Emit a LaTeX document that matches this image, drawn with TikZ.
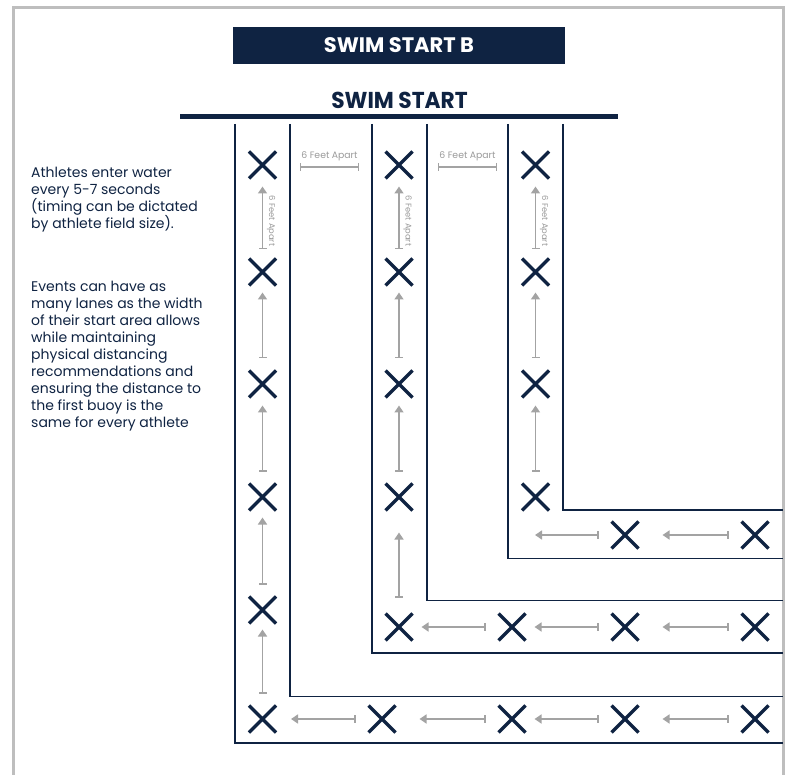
\documentclass[tikz,border=0pt]{standalone}
\usepackage{fontspec}
\setmainfont{Poppins}
\usetikzlibrary{arrows.meta,shapes.misc}
\definecolor{navy}{HTML}{0F2342}
\definecolor{agray}{HTML}{A3A3A3}
\definecolor{lgray}{HTML}{9A9A9A}
\definecolor{fgray}{HTML}{BEBEBE}
\tikzset{
  xmark/.style={cross out, draw=navy, line width=3.3pt, minimum size=27pt, inner sep=0pt, outer sep=0pt},
  wall/.style={draw=navy, line width=1.9pt},
  garrow/.style={draw=agray, line width=1.4pt, {Bar[width=8pt,line width=1.4pt]}-{Triangle[width=9pt,length=7pt]}},
  dimline/.style={draw=agray, line width=1.4pt, {Bar[width=8pt,line width=1.4pt]}-{Bar[width=8pt,line width=1.4pt]}},
  dimlabel/.style={text=lgray, font=\fontsize{9.3}{10}\selectfont, inner sep=0pt},
  vlabel/.style={text=lgray, font=\fontsize{8.3}{9}\selectfont, inner sep=0pt, rotate=-90},
  bodytext/.style={text=navy, font=\fontsize{14}{17}\selectfont, align=left, inner sep=0pt, anchor=base west},
}
\begin{document}
\begin{tikzpicture}[x=1pt,y=-1pt]
\useasboundingbox (0,0) rectangle (790,775);
% outer frame
\draw[fgray, line width=2.5pt] (13.5,775) -- (13.5,7.3) -- (783.5,7.3) -- (783.5,775);
% titles
\node[fill=navy, minimum width=332pt, minimum height=37pt, inner sep=0pt, text=white, font=\fontsize{21}{23}\selectfont\bfseries] (title) at (399,45.5) {SWIM START B};
\node[text=navy, font=\fontsize{23}{25}\selectfont\bfseries, anchor=base, inner sep=0pt, xscale=0.945] (start) at (399.5,109) {SWIM START};
\coordinate (barL) at (180,116.5);
\coordinate (barR) at (618,116.5);
\draw[navy, line width=5pt] (barL) -- (barR);
% lane walls
\draw[wall] (235,124) -- (235,743) -- (783,743);
\draw[wall] (290,124) -- (290,696.5) -- (783,696.5);
\draw[wall] (372,124) -- (372,653) -- (783,653);
\draw[wall] (427,124) -- (427,600.5) -- (783,600.5);
\draw[wall] (508,124) -- (508,558.5) -- (783,558.5);
\draw[wall] (563,124) -- (563,510) -- (783,510);
% side text (anchor = baseline of last line)
\node[bodytext] (p1) at (31,228.5) {Athletes enter water\\every 5-7 seconds\\(timing can be dictated\\by athlete field size).};
\node[bodytext] (p2) at (31,427.5) {Events can have as\\many lanes as the width\\of their start area allows\\while maintaining\\physical distancing\\recommendations and\\ensuring the distance to\\the first buoy is the\\same for every athlete};
% lane 1 marks
\node[xmark] (L1a) at (262.5,165) {};
\node[xmark] (L1b) at (262.5,272) {};
\node[xmark] (L1c) at (262.5,384) {};
\node[xmark] (L1d) at (262.5,497) {};
\node[xmark] (L1e) at (262.5,610) {};
\node[xmark] (L1f) at (262.5,719) {};
\node[xmark] (B1a) at (382,719) {};
\node[xmark] (B1b) at (512,719) {};
\node[xmark] (B1c) at (625,719) {};
\node[xmark] (B1d) at (755,719) {};
% lane 2 marks
\node[xmark] (L2a) at (399,165) {};
\node[xmark] (L2b) at (399,272) {};
\node[xmark] (L2c) at (399,384) {};
\node[xmark] (L2d) at (399,497) {};
\node[xmark] (L2e) at (399,627) {};
\node[xmark] (B2a) at (512,627) {};
\node[xmark] (B2b) at (625,627) {};
\node[xmark] (B2c) at (755,627) {};
% lane 3 marks
\node[xmark] (L3a) at (535.5,165) {};
\node[xmark] (L3b) at (535.5,272) {};
\node[xmark] (L3c) at (535.5,384) {};
\node[xmark] (L3d) at (535.5,497) {};
\node[xmark] (B3a) at (625,535) {};
\node[xmark] (B3b) at (755,535) {};
\coordinate (c3) at (535,535);
% vertical arrows
\foreach \l in {1,2,3}{
  \draw[garrow, shorten <=9pt, shorten >=8pt] (L\l b) -- (L\l a);
  \draw[garrow, shorten <=12pt, shorten >=7pt] (L\l c) -- (L\l b);
  \draw[garrow, shorten <=12pt, shorten >=8pt] (L\l d) -- (L\l c);
}
\draw[garrow, shorten <=12pt, shorten >=7pt] (L1e) -- (L1d);
\draw[garrow, shorten <=12pt, shorten >=6pt] (L1f) -- (L1e);
\draw[garrow, shorten <=16pt, shorten >=22pt] (L2e) -- (L2d);
% horizontal arrows
\draw[garrow, shorten <=13pt, shorten >=15pt] (B1a) -- (L1f);
\draw[garrow, shorten <=13pt, shorten >=24pt] (B1b) -- (B1a);
\draw[garrow, shorten <=13pt, shorten >=9pt] (B1c) -- (B1b);
\draw[garrow, shorten <=13pt, shorten >=24pt] (B1d) -- (B1c);
\draw[garrow, shorten <=13pt, shorten >=9pt] (B2a) -- (L2e);
\draw[garrow, shorten <=13pt, shorten >=9pt] (B2b) -- (B2a);
\draw[garrow, shorten <=13pt, shorten >=24pt] (B2c) -- (B2b);
\draw[garrow, shorten <=13pt] (B3a) -- (c3);
\draw[garrow, shorten <=13pt, shorten >=24pt] (B3b) -- (B3a);
% vertical labels
\foreach \l/\x in {1/271,2/407.5,3/544}{
  \node[vlabel] (vl\l) at (\x,221) {6 Feet Apart};
}
% horizontal dimension marks
\coordinate (d1l) at (300,167); \coordinate (d1r) at (359,167);
\coordinate (d2l) at (438,167); \coordinate (d2r) at (497,167);
\draw[dimline] (d1l) -- (d1r);
\draw[dimline] (d2l) -- (d2r);
\node[dimlabel] (dl1) at (329.5,156) {6 Feet Apart};
\node[dimlabel] (dl2) at (467.5,156) {6 Feet Apart};
\end{tikzpicture}
\end{document}
